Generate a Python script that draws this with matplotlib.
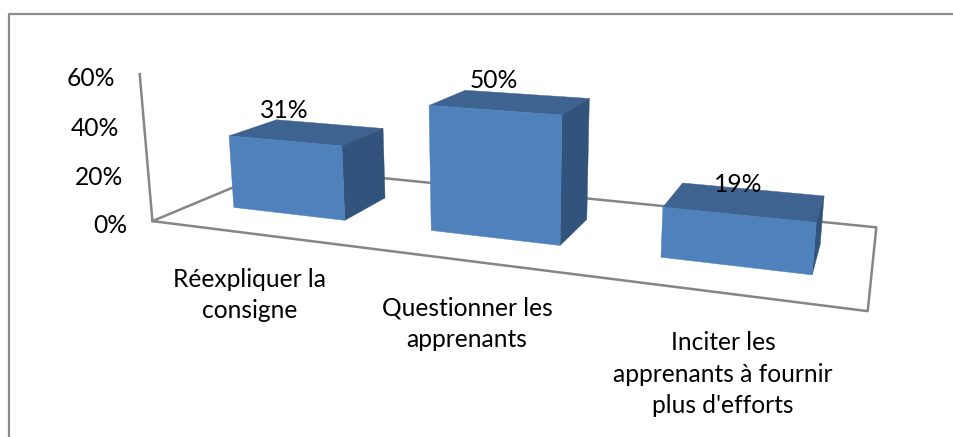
"""Survey chart: pseudo-3D bars drawn on a flat axes through a fixed camera matrix."""

import numpy as np
import matplotlib
matplotlib.use("Agg")
import matplotlib.pyplot as plt
from matplotlib.patches import Polygon

categories = ["Réexpliquer la\nconsigne", "Questionner les\napprenants", "Inciter les\napprenants à fournir\nplus d'efforts"]
values = [0.31, 0.50, 0.19]
ticks = [0.0, 0.2, 0.4, 0.6]

plt.rcParams["font.family"] = ["Lato", "DejaVu Sans"]

# camera: (category fraction, depth fraction, value) -> image pixels
CAMERA = np.array([
    [524.319739, 184.185833, -29.351132, 152.422434],
    [21.551202, -19.322836, -249.218422, 221.109663],
    [-0.220076, 0.202492, -0.058507, 1.0],
])
BAR_WIDTH = 0.58
DEPTH = (0.30, 0.68)

FRONT = "#4f81bd"
TOP = "#3f6391"
SIDE = "#32547c"
LINE = "#868686"
FONT = 17.7

# text centres in image pixels, same order as categories
CAT_POS = [(250, 295), (467, 324), (723, 374)]


def project(u, d, z):
    p = CAMERA @ np.array([u, d, z, 1.0])
    return p[0] / p[2], p[1] / p[2]


def draw_bar(ax, i, v):
    u0 = (i + 0.5 - BAR_WIDTH / 2) / len(values)
    u1 = (i + 0.5 + BAR_WIDTH / 2) / len(values)
    d0, d1 = DEPTH
    faces = [
        ([(u0, d0, v), (u1, d0, v), (u1, d1, v), (u0, d1, v)], TOP),
        ([(u1, d0, 0), (u1, d1, 0), (u1, d1, v), (u1, d0, v)], SIDE),
        ([(u0, d0, 0), (u1, d0, 0), (u1, d0, v), (u0, d0, v)], FRONT),
    ]
    for corners, color in faces:
        ax.add_patch(Polygon([project(*c) for c in corners], closed=True,
                             facecolor=color, edgecolor=color, lw=0.3, zorder=3))
    # label sits above the middle of the front top edge
    x, y = project((u0 + u1) / 2, d0, v)
    ax.text(x, y - 30, f"{v:.0%}", ha="center", va="center", fontsize=FONT, zorder=5)


def main() -> None:
    fig = plt.figure(figsize=(9.54, 4.37), dpi=100)
    ax = fig.add_axes([0, 0, 1, 1])
    ax.set_xlim(0, 954)
    ax.set_ylim(437, 0)
    ax.axis("off")

    # chart border: only the top and left edges are inside the crop
    ax.plot([954, 9.5, 9.5], [14, 14, 437], color="#8c8c8c", lw=1.6, zorder=1)

    # floor outline and value axis
    floor = [project(*c) for c in [(0, 1, 0), (0, 0, 0), (1, 0, 0), (1, 1, 0), (0, 1, 0)]]
    ax.plot(*zip(*floor), color=LINE, lw=1.8, zorder=2)
    ax.plot(*zip(project(0, 0, 0), project(0, 0, ticks[-1])), color=LINE, lw=1.8, zorder=2)

    for t in ticks:
        x, y = project(0, 0, t)
        ax.text(x - 25, y + 4, f"{t:.0%}", ha="right", va="center", fontsize=FONT)

    for i, v in enumerate(values):
        draw_bar(ax, i, v)

    for label, (x, y) in zip(categories, CAT_POS):
        ax.text(x, y, label, ha="center", va="center", fontsize=FONT, linespacing=1.45)

    fig.savefig("out.png", dpi=100)


if __name__ == "__main__":
    main()
